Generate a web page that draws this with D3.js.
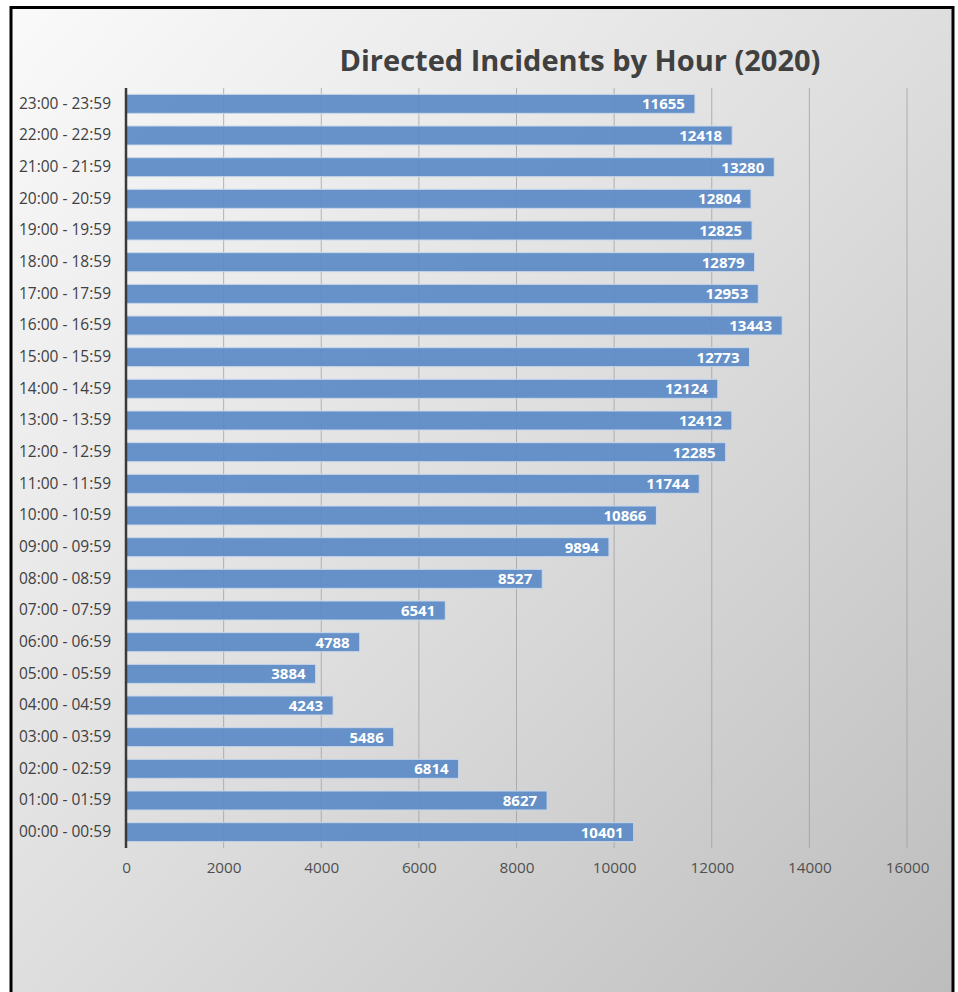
<!DOCTYPE html>
<html><head><meta charset="utf-8">
<script src="https://cdn.jsdelivr.net/npm/d3@7"></script>
<style>body{margin:0;background:#fff;}svg{display:block;}</style>
</head><body>
<script>
const categories = ["00:00 - 00:59","01:00 - 01:59","02:00 - 02:59","03:00 - 03:59","04:00 - 04:59","05:00 - 05:59","06:00 - 06:59","07:00 - 07:59","08:00 - 08:59","09:00 - 09:59","10:00 - 10:59","11:00 - 11:59","12:00 - 12:59","13:00 - 13:59","14:00 - 14:59","15:00 - 15:59","16:00 - 16:59","17:00 - 17:59","18:00 - 18:59","19:00 - 19:59","20:00 - 20:59","21:00 - 21:59","22:00 - 22:59","23:00 - 23:59"];
const values = [10401,8627,6814,5486,4243,3884,4788,6541,8527,9894,10866,11744,12285,12412,12124,12773,13443,12953,12879,12825,12804,13280,12418,11655];
const xTicks = [0,2000,4000,6000,8000,10000,12000,14000,16000];
const title = "Directed Incidents by Hour (2020)";

const W = 958, H = 992;
const svg = d3.select("body").append("svg").attr("width", W).attr("height", H);
const defs = svg.append("defs");
const grad = defs.append("linearGradient").attr("id","bg").attr("x1","0").attr("y1","0").attr("x2","1").attr("y2","1");
grad.append("stop").attr("offset","0").attr("stop-color","#fafafa");
grad.append("stop").attr("offset","0.5").attr("stop-color","#dedede");
grad.append("stop").attr("offset","1").attr("stop-color","#bdbdbd");

svg.append("rect").attr("x",11).attr("y",7).attr("width",942).attr("height",H-7).attr("fill","url(#bg)");
svg.append("path").attr("d",`M11,${H} V7.5 H953 V${H}`).attr("fill","none").attr("stroke","#000").attr("stroke-width",3);

const x = d3.scaleLinear().domain([0,16000]).range([126,907]);
const y = d3.scaleBand().domain(categories.slice().reverse()).range([88,848]).paddingInner(0.4).paddingOuter(0.2);

svg.append("g").selectAll("line").data(xTicks.slice(1)).join("line")
  .attr("x1",d=>x(d)).attr("x2",d=>x(d)).attr("y1",88).attr("y2",848)
  .attr("stroke","#9a9a9a").attr("stroke-opacity",0.7).attr("stroke-width",1);

svg.append("g").selectAll("rect").data(categories).join("rect")
  .attr("x",x(0)).attr("y",d=>y(d))
  .attr("width",(d,i)=>x(values[i])-x(0)).attr("height",y.bandwidth())
  .attr("fill","#5b8bc6").attr("fill-opacity",0.93)
  .attr("stroke","#c9d7ea").attr("stroke-width",1);

svg.append("g").selectAll("text").data(categories).join("text")
  .attr("x",(d,i)=>x(values[i])-10).attr("y",d=>y(d)+y.bandwidth()/2)
  .attr("dy","0.36em").attr("text-anchor","end")
  .attr("font-family","'Open Sans', sans-serif").attr("font-weight","bold").attr("font-size","15px")
  .attr("fill","#fff").text((d,i)=>values[i]);

svg.append("line").attr("x1",126).attr("x2",126).attr("y1",88).attr("y2",848).attr("stroke","#3a3a3a").attr("stroke-width",2.5);

const yAxis = d3.axisLeft(y).tickSize(0).tickPadding(15);
const gy = svg.append("g").attr("transform","translate(126,0)").call(yAxis);
gy.select(".domain").remove();
gy.selectAll("text").attr("font-family","'Open Sans', sans-serif").attr("font-size","15.5px").attr("fill","#404040");

const xAxis = d3.axisBottom(x).tickValues(xTicks).tickSize(0).tickPadding(0).tickFormat(d3.format("d"));
const gx = svg.append("g").attr("transform","translate(0,862)").call(xAxis);
gx.select(".domain").remove();
gx.selectAll("text").attr("font-family","'Open Sans', sans-serif").attr("font-size","15.3px").attr("fill","#505050");

svg.append("text").attr("x",580).attr("y",71).attr("text-anchor","middle")
  .attr("font-family","'Open Sans', sans-serif").attr("font-weight","bold").attr("font-size","29px")
  .attr("fill","#404040").text(title);
</script>
</body></html>
